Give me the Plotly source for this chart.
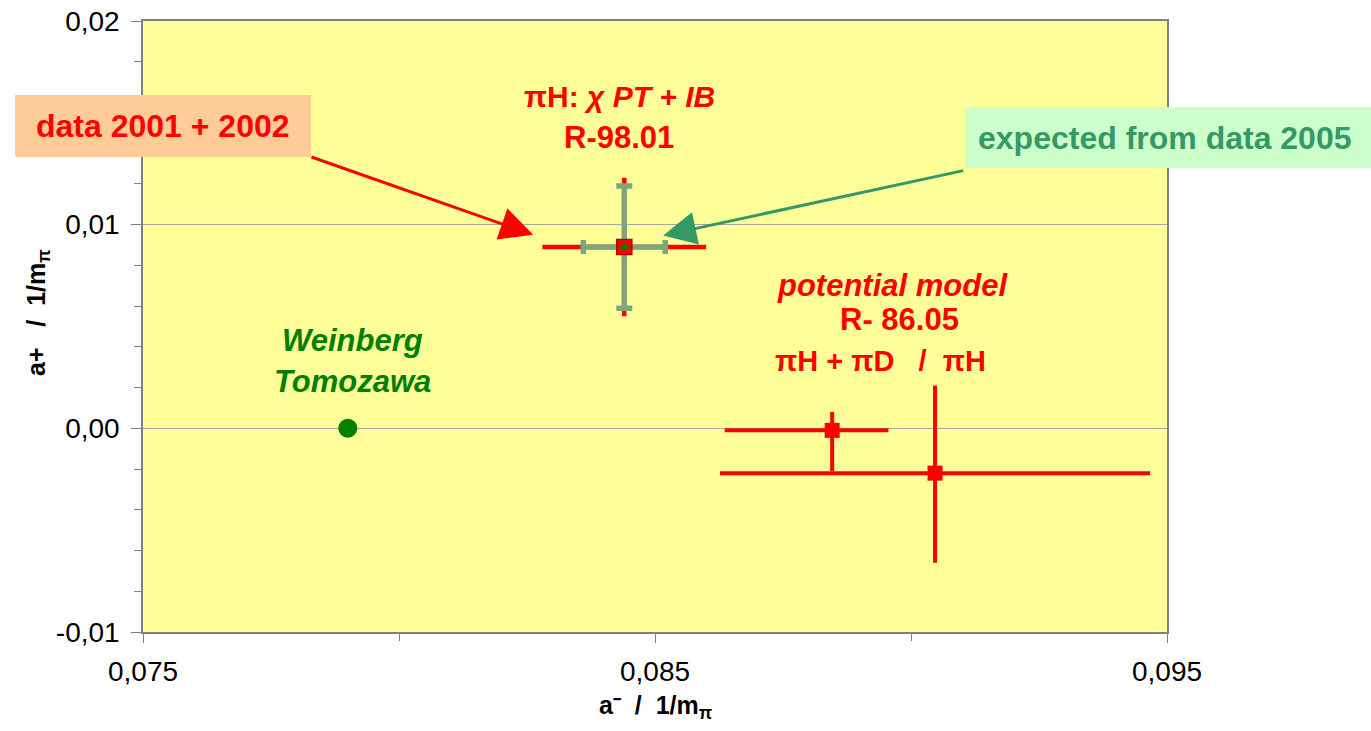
import plotly.graph_objects as go

# ---- values (a- and a+ in units of 1/m_pi) ----
wt_x = [0.0790]
wt_y = [0.0]

chpt_x = [0.0844]
chpt_y = [0.0089]
chpt_ex = [0.0016]
chpt_ey = [0.0034]

exp_x = [0.0844]
exp_y = [0.0089]
exp_ex = [0.0008]
exp_ey = [0.0030]

pot_x = [0.08846, 0.09047]
pot_y = [-0.0001, -0.0022]
pot_ex_plus = [0.0011, 0.0042]
pot_ex_minus = [0.0021, 0.0042]
pot_ey_plus = [0.0009, 0.0043]
pot_ey_minus = [0.0020, 0.0044]

x_tickvals = [0.075, 0.085, 0.095]
x_ticktext = ["0,075", "0,085", "0,095"]
y_tickvals = [-0.01, 0.0, 0.01, 0.02]
y_ticktext = ["-0,01", "0,00", "0,01", "0,02"]

RED = "#ff0000"
SAGE = "#7fa67a"
GREEN = "#008000"
TEAL = "#339966"
FONT = "Liberation Sans, Arial, sans-serif"

fig = go.Figure()

# chiPT + IB result: red error cross
fig.add_trace(go.Scatter(
    x=chpt_x, y=chpt_y, mode="markers",
    marker=dict(size=1, color="rgba(0,0,0,0)"),
    error_x=dict(type="data", array=chpt_ex, color=RED, thickness=4.5, width=0),
    error_y=dict(type="data", array=chpt_ey, color=RED, thickness=4.5, width=0),
    hoverinfo="skip",
))
# expected precision from 2005 data
fig.add_trace(go.Scatter(
    x=exp_x, y=exp_y, mode="markers",
    marker=dict(size=1, color="rgba(0,0,0,0)"),
    error_x=dict(type="data", array=exp_ex, color=SAGE, thickness=5.5, width=7),
    error_y=dict(type="data", array=exp_ey, color=SAGE, thickness=5.5, width=8),
    hoverinfo="skip",
))
fig.add_trace(go.Scatter(
    x=chpt_x, y=chpt_y, mode="markers",
    marker=dict(symbol="square", size=15, color=RED, line=dict(color="#b00000", width=1.5)),
))
fig.add_trace(go.Scatter(
    x=exp_x, y=exp_y, mode="markers",
    marker=dict(symbol="triangle-up", size=10, color=GREEN),
))

# potential model results
fig.add_trace(go.Scatter(
    x=pot_x, y=pot_y, mode="markers",
    marker=dict(symbol="square", size=15, color=RED),
    error_x=dict(type="data", symmetric=False, array=pot_ex_plus, arrayminus=pot_ex_minus,
                 color=RED, thickness=4, width=0),
    error_y=dict(type="data", symmetric=False, array=pot_ey_plus, arrayminus=pot_ey_minus,
                 color=RED, thickness=4, width=0),
))

# Weinberg-Tomozawa point
fig.add_trace(go.Scatter(
    x=wt_x, y=wt_y, mode="markers",
    marker=dict(symbol="circle", size=19, color=GREEN),
))

# label boxes
fig.add_shape(type="rect", xref="paper", yref="paper",
              x0=-0.125, x1=0.164, y0=0.7774, y1=0.8789,
              fillcolor="#ffcc99", line=dict(width=0), layer="above")
fig.add_shape(type="rect", xref="paper", yref="paper",
              x0=0.8027, x1=1.21, y0=0.7594, y1=0.8592,
              fillcolor="#ccffcc", line=dict(width=0), layer="above")

ann = []


def label(text, x, y, color, size, italic=False):
    t = f"<b>{text}</b>"
    if italic:
        t = f"<i>{t}</i>"
    ann.append(dict(text=t, x=x, y=y, xref="x", yref="y", showarrow=False,
                    font=dict(family=FONT, size=size, color=color),
                    xanchor="center", yanchor="middle"))


label("πH: <i>χ PT + IB</i>", 0.08430, 0.01628, RED, 30)
label("R-98.01", 0.08430, 0.01429, RED, 31)
label("potential model", 0.08963, 0.00702, RED, 31, italic=True)
label("R- 86.05", 0.08977, 0.00535, RED, 31)
label("πH + πD   /  πH", 0.08940, 0.00329, RED, 29)
label("Weinberg", 0.07910, 0.00432, GREEN, 31, italic=True)
label("Tomozawa", 0.07910, 0.00231, GREEN, 31, italic=True)

# box texts
ann.append(dict(text="<b>data 2001 + 2002</b>", x=(163 - 143) / 1024, y=(632 - 126) / 611,
                xref="paper", yref="paper", showarrow=False,
                font=dict(family=FONT, size=32, color=RED), xanchor="center", yanchor="middle"))
ann.append(dict(text="<b>expected from data 2005</b>", x=(1165 - 143) / 1024, y=(632 - 138) / 611,
                xref="paper", yref="paper", showarrow=False,
                font=dict(family=FONT, size=32, color=TEAL), xanchor="center", yanchor="middle"))

# arrows pointing at the central result
ann.append(dict(x=0.08262, y=0.00950, ax=0.07826, ay=0.01335, xref="x", yref="y",
                axref="x", ayref="y", showarrow=True, arrowhead=2, arrowsize=2.2,
                arrowwidth=3, arrowcolor=RED, text=""))
ann.append(dict(x=0.08516, y=0.00947, ax=0.09105, ay=0.01267, xref="x", yref="y",
                axref="x", ayref="y", showarrow=True, arrowhead=2, arrowsize=2.2,
                arrowwidth=3, arrowcolor=TEAL, text=""))

# axis titles
ann.append(dict(text="<b>a+   /  1/m<sub>π</sub></b>", x=(38 - 143) / 1024, y=(632 - 313) / 611,
                xref="paper", yref="paper", showarrow=False, textangle=-90,
                font=dict(family=FONT, size=25, color="black"), xanchor="center", yanchor="middle"))
ann.append(dict(text="<b>a⁻  /  1/m<sub>π</sub></b>", x=(655 - 143) / 1024, y=(632 - 707) / 611,
                xref="paper", yref="paper", showarrow=False,
                font=dict(family=FONT, size=25, color="black"), xanchor="center", yanchor="middle"))

fig.update_layout(
    width=1371, height=731,
    margin=dict(l=143, r=204, t=21, b=99, autoexpand=False),
    paper_bgcolor="white",
    plot_bgcolor="#ffff99",
    showlegend=False,
    font=dict(family=FONT, size=28, color="black"),
    annotations=ann,
)
fig.update_xaxes(
    range=[0.075, 0.095], showgrid=False, zeroline=False, automargin=False,
    tickvals=x_tickvals, ticktext=x_ticktext,
    ticks="outside", ticklen=9, tickcolor="#808080", tickwidth=1,
    minor=dict(dtick=0.005, tick0=0.075, ticks="outside", ticklen=7, tickcolor="#808080", showgrid=False),
    showline=True, linecolor="#808080", linewidth=1.5, mirror=True,
    ticklabelstandoff=5,
)
fig.update_yaxes(
    range=[-0.01, 0.02], showgrid=True, gridcolor="#a8a8a0", gridwidth=1, zeroline=False,
    automargin=False,
    tickvals=y_tickvals, ticktext=y_ticktext,
    ticks="outside", ticklen=10, tickcolor="#808080", tickwidth=1,
    minor=dict(dtick=0.002, tick0=0.0, ticks="outside", ticklen=7, tickcolor="#808080", showgrid=False),
    showline=True, linecolor="#808080", linewidth=1.5, mirror=True,
    ticklabelstandoff=6,
)

fig.write_html("out.html")
